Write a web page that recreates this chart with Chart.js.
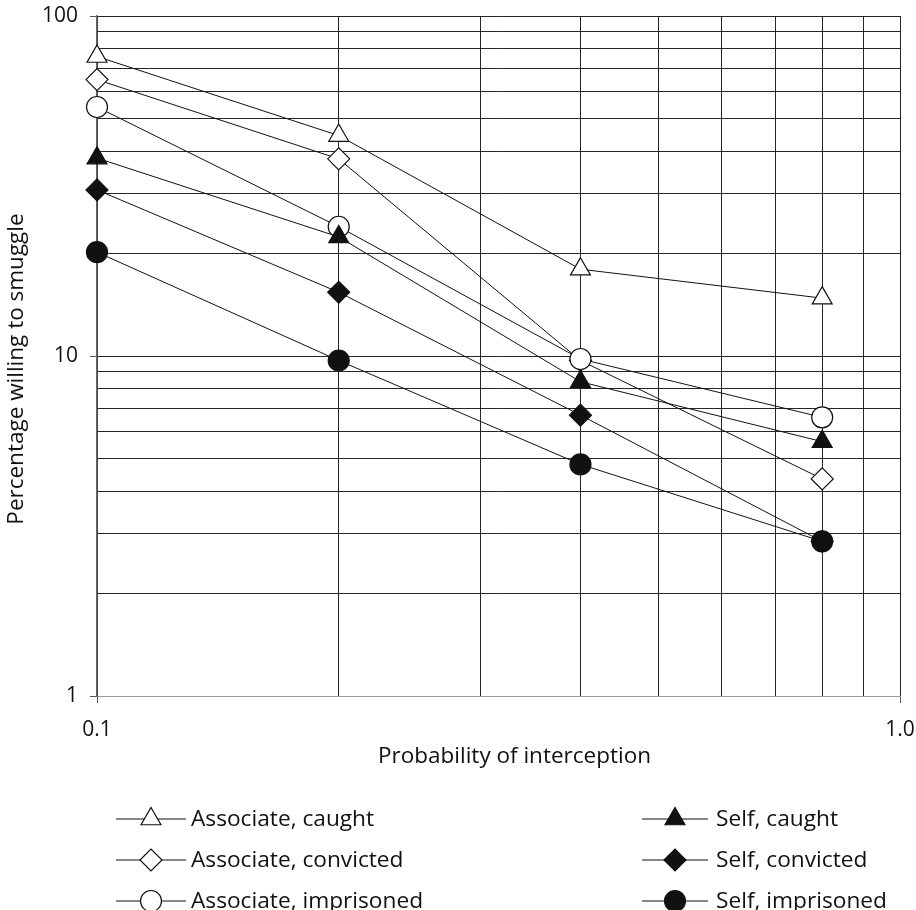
<!DOCTYPE html>
<html>
<head>
<meta charset="utf-8">
<script src="https://cdn.jsdelivr.net/npm/chart.js@4.4.1/dist/chart.umd.min.js"></script>
<style>
  html, body { margin: 0; padding: 0; background: #fff; }
  canvas { display: block; }
</style>
</head>
<body>
<canvas id="chart" width="916" height="910"></canvas>
<script>
// probability of interception (x) and % willing to smuggle (y)
const probabilities = [0.1, 0.2, 0.4, 0.8];
const associateCaught = [76, 44.5, 18, 14.8];
const associateConvicted = [65, 38, 9.7, 4.35];
const associateImprisoned = [54, 24, 9.8, 6.6];
const selfCaught = [38.2, 22.4, 8.4, 5.6];
const selfConvicted = [30.8, 15.4, 6.7, 2.85];
const selfImprisoned = [20.2, 9.7, 4.8, 2.85];

// grid lines and labelled ticks
const xGridValues = [0.1, 0.2, 0.3, 0.4, 0.5, 0.6, 0.7, 0.8, 0.9, 1];
const yGridValues = [1, 2, 3, 4, 5, 6, 7, 8, 9, 10, 20, 30, 40, 50, 60, 70, 80, 90, 100];
const xLabelValues = [0.1, 1];
const xLabelTexts = ['0.1', '1.0'];
const yLabelValues = [1, 10, 100];
const yLabelTexts = ['1', '10', '100'];

const INK = '#111';
const FONT = 'Open Sans';

const near = (a, b) => Math.abs(a - b) < 1e-9 * Math.max(1, b);
const labelFor = (values, texts) => (v) => {
  const i = values.findIndex(t => near(v, t));
  return i < 0 ? '' : texts[i];
};
const isLabelled = (values) => (c) => c.tick && values.some(t => near(c.tick.value, t));
const fixTicks = (values) => (scale) => { scale.ticks = values.map(v => ({ value: v })); };

const toPoints = (ys) => ys.map((y, i) => ({ x: probabilities[i], y }));

function series(label, ys, style, filled, radius, order) {
  return {
    label,
    data: toPoints(ys),
    showLine: false,
    pointStyle: style,
    pointRadius: radius,
    pointHoverRadius: radius,
    pointBackgroundColor: filled ? INK : '#fff',
    pointBorderColor: INK,
    pointBorderWidth: 1.2,
    clip: false,
    order
  };
}

// connect the points under all markers
const linesUnder = {
  id: 'linesUnder',
  beforeDatasetsDraw(chart) {
    const ctx = chart.ctx;
    ctx.save();
    ctx.strokeStyle = INK;
    ctx.lineWidth = 1;
    chart.getSortedVisibleDatasetMetas().forEach(meta => {
      ctx.beginPath();
      meta.data.forEach((pt, i) => i ? ctx.lineTo(pt.x, pt.y) : ctx.moveTo(pt.x, pt.y));
      ctx.stroke();
    });
    ctx.restore();
  }
};

// axis titles (placed like the original, a little off the axis centre)
const axisTitles = {
  id: 'axisTitles',
  afterDraw(chart) {
    const ctx = chart.ctx;
    const { x, y } = chart.scales;
    ctx.save();
    ctx.fillStyle = INK;
    ctx.font = `22.5px "${FONT}"`;
    ctx.textAlign = 'center';
    ctx.textBaseline = 'middle';
    ctx.fillText(x.options.title.text, (x.left + x.right) / 2 + 16, 757);
    ctx.translate(17, (y.top + y.bottom) / 2 + 13);
    ctx.rotate(-Math.PI / 2);
    ctx.fillText(y.options.title.text, 0, 0);
    ctx.restore();
  }
};

// two-column legend below the axis title
const legendCols = [
  { x0: 116, x1: 186, mark: 151, text: 191 },
  { x0: 642, x1: 708, mark: 675, text: 716 }
];
const legendRows = [819, 860, 901];

const columnLegend = {
  id: 'columnLegend',
  afterDraw(chart) {
    const ctx = chart.ctx;
    ctx.save();
    ctx.font = `22.7px "${FONT}"`;
    ctx.textBaseline = 'middle';
    chart.data.datasets.forEach((ds, i) => {
      const col = legendCols[Math.floor(i / 3)];
      const y = legendRows[i % 3];
      ctx.strokeStyle = INK;
      ctx.lineWidth = 1;
      ctx.beginPath();
      ctx.moveTo(col.x0, y);
      ctx.lineTo(col.x1, y);
      ctx.stroke();
      ctx.fillStyle = ds.pointBackgroundColor;
      ctx.strokeStyle = ds.pointBorderColor;
      ctx.lineWidth = ds.pointBorderWidth;
      Chart.helpers.drawPoint(ctx, {
        pointStyle: ds.pointStyle,
        radius: ds.pointRadius,
        rotation: 0,
        borderWidth: ds.pointBorderWidth
      }, col.mark, y);
      ctx.fillStyle = INK;
      ctx.fillText(ds.label, col.text, y + 1);
    });
    ctx.restore();
  }
};

new Chart(document.getElementById('chart'), {
  type: 'line',
  data: {
    datasets: [
      series('Associate, caught', associateCaught, 'triangle', false, 11.5, 0),
      series('Associate, convicted', associateConvicted, 'rectRot', false, 11, 3),
      series('Associate, imprisoned', associateImprisoned, 'circle', false, 10.5, 2),
      series('Self, caught', selfCaught, 'triangle', true, 11.5, 1),
      series('Self, convicted', selfConvicted, 'rectRot', true, 11, 4),
      series('Self, imprisoned', selfImprisoned, 'circle', true, 10.5, 0)
    ]
  },
  options: {
    responsive: false,
    animation: false,
    devicePixelRatio: 1,
    layout: { padding: { top: 16, right: 16, bottom: 124, left: 0 } },
    plugins: { legend: { display: false }, tooltip: { enabled: false } },
    scales: {
      x: {
        type: 'logarithmic',
        min: 0.1,
        max: 1,
        afterBuildTicks: fixTicks(xGridValues),
        afterFit: (s) => { s.height = 90; s.paddingLeft = 0; s.paddingRight = 0; },
        ticks: {
          autoSkip: false,
          maxRotation: 0,
          padding: 14,
          color: INK,
          font: { family: FONT, size: 21 },
          callback: labelFor(xLabelValues, xLabelTexts)
        },
        grid: {
          color: '#262626',
          lineWidth: 1,
          tickLength: 7,
          tickColor: (c) => isLabelled(xLabelValues)(c) ? '#555' : 'rgba(0,0,0,0)'
        },
        border: { color: '#999', width: 1 },
        title: { display: false, text: 'Probability of interception' }
      },
      y: {
        type: 'logarithmic',
        min: 1,
        max: 100,
        afterBuildTicks: fixTicks(yGridValues),
        afterFit: (s) => { s.width = 97; s.paddingTop = 0; s.paddingBottom = 0; },
        ticks: {
          autoSkip: false,
          padding: 12,
          color: INK,
          font: { family: FONT, size: 21 },
          callback: labelFor(yLabelValues, yLabelTexts)
        },
        grid: {
          color: '#262626',
          lineWidth: 1,
          tickLength: 7,
          tickColor: (c) => isLabelled(yLabelValues)(c) ? '#555' : 'rgba(0,0,0,0)'
        },
        border: { color: '#666', width: 1.5 },
        title: { display: false, text: 'Percentage willing to smuggle' }
      }
    }
  },
  plugins: [linesUnder, axisTitles, columnLegend]
});
</script>
</body>
</html>
